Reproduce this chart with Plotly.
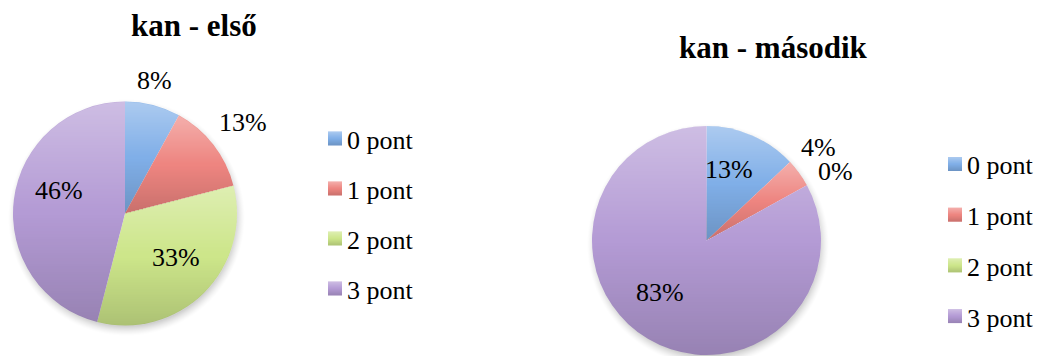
import math, zlib, struct, base64
import numpy as np
import plotly.graph_objects as go

W, H = 1038, 356

categories = ["0 pont", "1 pont", "2 pont", "3 pont"]
titles = ["kan - első", "kan - második"]
values_first = [8, 13, 33, 46]
values_second = [13, 4, 0, 83]
colors = ["#80afe8", "#ee8580", "#cde68a", "#b49bd5"]

# layout (pixels)
pies = [
    dict(cx=125, cy=213.5, r=112, title_xy=(194, 26), legend_x=328, legend_y0=138.5, legend_dy=50,
         lab_r=[1.22, 1.33, 0.60, 0.62], lab_da=[-2, 0.3, -4, 12]),
    dict(cx=706.5, cy=240.5, r=114.5, title_xy=(773.5, 47.5), legend_x=948, legend_y0=164, legend_dy=50.7,
         lab_r=[0.65, 1.27, 1.28, 0.61], lab_da=[-5.4, -3.7, 0.6, 11]),
]
series = [values_first, values_second]

FONT = "Liberation Serif"
K_WHITE, K_BLACK = 0.35, 0.16


def px(x):
    return x / W


def py(y):
    return 1 - y / H


def png_data_uri(rgba):
    h, w, _ = rgba.shape
    raw = b"".join(b"\x00" + rgba[row].tobytes() for row in range(h))

    def chunk(tag, data):
        c = struct.pack(">I", len(data)) + tag + data
        return c + struct.pack(">I", zlib.crc32(tag + data) & 0xFFFFFFFF)

    png = (b"\x89PNG\r\n\x1a\n" + chunk(b"IHDR", struct.pack(">IIBBBBB", w, h, 8, 6, 0, 0, 0))
           + chunk(b"IDAT", zlib.compress(raw, 9)) + chunk(b"IEND", b""))
    return "data:image/png;base64," + base64.b64encode(png).decode()


def shade(t):
    """alpha and grey level of the light-to-dark vertical shading at fraction t (0 top, 1 bottom)."""
    aw = np.where(t < 0.5, K_WHITE * (1 - 2 * t), 0.0)
    ab = np.where(t >= 0.5, K_BLACK * (2 * t - 1), 0.0)
    return aw + ab, np.where(t < 0.5, 255.0, 0.0)


def shading_overlay(vals, R, pad):
    """Translucent light/dark vertical shading per slice plus a soft drop shadow."""
    size = int(round(2 * (R + pad)))
    c = size / 2
    yy, xx = np.mgrid[0:size, 0:size].astype(float) + 0.5
    dx, dy = xx - c, yy - c
    d = np.hypot(dx, dy)
    ang = np.degrees(np.arctan2(dx, -dy)) % 360
    total = sum(vals)
    a_in = np.zeros_like(d)
    col_in = np.zeros_like(d)
    cum = 0.0
    for v in vals:
        if v <= 0:
            continue
        a0 = cum / total * 360
        a1 = (cum + v) / total * 360
        cum += v
        ys = [0.0, -R * math.cos(math.radians(a0)), -R * math.cos(math.radians(a1))]
        if a0 <= 0 <= a1:
            ys.append(-R)
        if a0 <= 180 <= a1:
            ys.append(R)
        ymin, ymax = min(ys), max(ys)
        m = (ang >= a0) & (ang < a1 + 1e-9)
        t = np.clip((dy - ymin) / max(ymax - ymin, 1e-6), 0, 1)
        a, g = shade(t)
        a_in = np.where(m, a, a_in)
        col_in = np.where(m, g, col_in)
    cov = np.clip(R - d + 0.5, 0, 1)
    ds = np.hypot(dx - 1.5, dy - 4.0)
    blur = 7.0
    a_sh = 0.30 * np.clip((R + blur - ds) / (2 * blur), 0, 1) ** 1.5
    alpha = cov * a_in + (1 - cov) * a_sh
    color = np.where(alpha > 0, (cov * a_in * col_in) / np.maximum(alpha, 1e-9), 0)
    rgba = np.zeros((size, size, 4), dtype=np.uint8)
    rgba[..., 0] = rgba[..., 1] = rgba[..., 2] = np.clip(color, 0, 255).astype(np.uint8)
    rgba[..., 3] = np.clip(alpha * 255, 0, 255).astype(np.uint8)
    return png_data_uri(rgba), size


def square_overlay(n=14):
    t = (np.arange(n) + 0.5) / n
    a, g = shade(t)
    rgba = np.zeros((n, n, 4), dtype=np.uint8)
    rgba[..., 0] = rgba[..., 1] = rgba[..., 2] = g[:, None].astype(np.uint8)
    rgba[..., 3] = (a[:, None] * 255).astype(np.uint8)
    return png_data_uri(rgba)


SQ = 14
sq_uri = square_overlay(SQ)

fig = go.Figure()
annotations = []
shapes = []
images = []

for p, vals, title in zip(pies, series, titles):
    fig.add_trace(go.Pie(
        labels=categories, values=vals, sort=False, direction="clockwise", rotation=0,
        marker=dict(colors=colors, line=dict(width=0)),
        textinfo="none", hoverinfo="label+percent", showlegend=False,
        domain=dict(x=[px(p["cx"] - p["r"]), px(p["cx"] + p["r"])],
                    y=[py(p["cy"] + p["r"]), py(p["cy"] - p["r"])]),
    ))
    pad = 12
    uri, size = shading_overlay(vals, p["r"], pad)
    images.append(dict(source=uri, xref="paper", yref="paper",
                       x=px(p["cx"] - size / 2), y=py(p["cy"] - size / 2),
                       sizex=size / W, sizey=size / H, sizing="stretch",
                       xanchor="left", yanchor="top", layer="above"))
    total = sum(vals)
    cum = 0
    for i, v in enumerate(vals):
        mid = (cum + v / 2) / total * 360 + p["lab_da"][i]
        cum += v
        rr = p["lab_r"][i] * p["r"]
        x = p["cx"] + rr * math.sin(math.radians(mid))
        y = p["cy"] - rr * math.cos(math.radians(mid))
        annotations.append(dict(x=px(x), y=py(y), xref="paper", yref="paper",
                                text=f"{round(v / total * 100)}%", showarrow=False,
                                font=dict(family=FONT, size=26, color="#000"),
                                xanchor="center", yanchor="middle"))
    annotations.append(dict(x=px(p["title_xy"][0]), y=py(p["title_xy"][1]), xref="paper", yref="paper",
                            text=f"<b>{title}</b>", showarrow=False,
                            font=dict(family=FONT, size=31, color="#000"),
                            xanchor="center", yanchor="middle"))
    for i, cat in enumerate(categories):
        yc = p["legend_y0"] + i * p["legend_dy"]
        shapes.append(dict(type="rect", xref="paper", yref="paper", layer="below",
                           x0=px(p["legend_x"]), x1=px(p["legend_x"] + SQ),
                           y0=py(yc + SQ / 2), y1=py(yc - SQ / 2),
                           fillcolor=colors[i], line=dict(width=0)))
        images.append(dict(source=sq_uri, xref="paper", yref="paper",
                           x=px(p["legend_x"]), y=py(yc - SQ / 2),
                           sizex=SQ / W, sizey=SQ / H, sizing="stretch",
                           xanchor="left", yanchor="top", layer="above"))
        annotations.append(dict(x=px(p["legend_x"] + 17), y=py(yc + 2), xref="paper", yref="paper",
                                text=cat, showarrow=False,
                                font=dict(family=FONT, size=26, color="#000"),
                                xanchor="left", yanchor="middle"))

fig.update_layout(
    width=W, height=H, margin=dict(l=0, r=0, t=0, b=0),
    paper_bgcolor="white", plot_bgcolor="white",
    annotations=annotations, shapes=shapes, images=images, showlegend=False,
)

fig.write_html("out.html")
